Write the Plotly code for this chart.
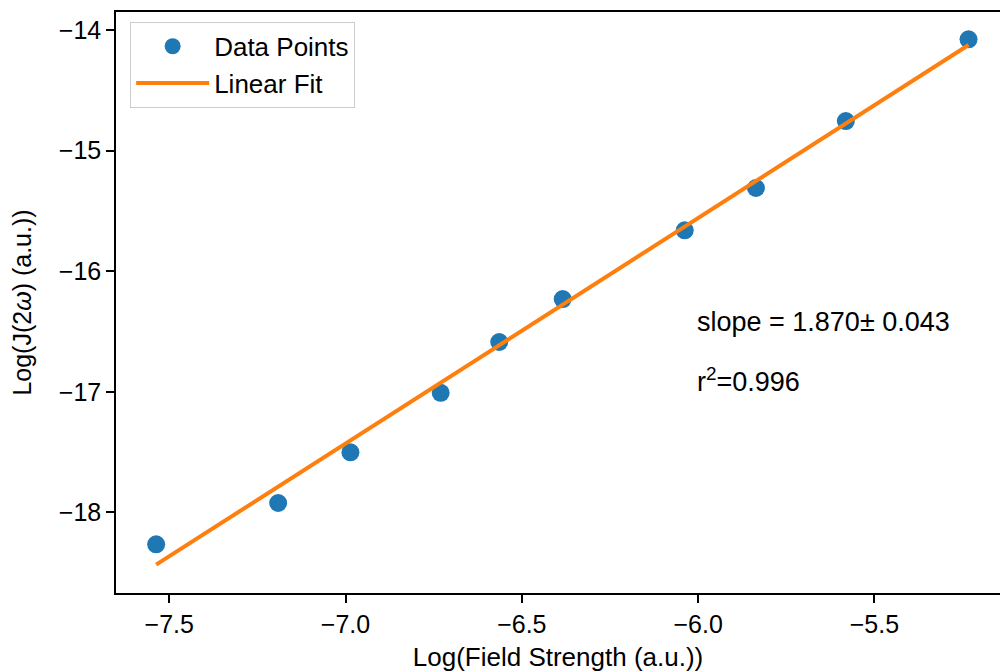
import plotly.graph_objects as go

# Data
field_log = [-7.537, -7.191, -6.986, -6.730, -6.564, -6.384, -6.038, -5.836, -5.581, -5.233]
current_log = [-18.265, -17.922, -17.502, -17.008, -16.587, -16.231, -15.661, -15.310, -14.755, -14.077]

fit_slope = 1.870
fit_intercept = -4.339

annotation_texts = ["slope = 1.870± 0.043", "r<sup>2</sup>=0.996"]
annotation_x = [-6.0, -6.0]
annotation_y = [-16.5, -17.0]

x_ticks = [-7.5, -7.0, -6.5, -6.0, -5.5]
y_ticks = [-18, -17, -16, -15, -14]

fit_x = [min(field_log), max(field_log)]
fit_y = [fit_slope * v + fit_intercept for v in fit_x]

FONT = "Liberation Sans, Arial, sans-serif"

fig = go.Figure()
fig.add_trace(go.Scatter(
    x=field_log, y=current_log, mode="markers", name="Data Points",
    marker=dict(color="#1f77b4", size=18, line=dict(width=0)),
))
fig.add_trace(go.Scatter(
    x=fit_x, y=fit_y, mode="lines", name="Linear Fit",
    line=dict(color="#ff7f0e", width=4),
))

for t, ax, ay in zip(annotation_texts, annotation_x, annotation_y):
    fig.add_annotation(
        x=ax, y=ay, text=t, showarrow=False, xanchor="left", yanchor="bottom",
        xshift=-3, yshift=-7, font=dict(family=FONT, size=27, color="black"),
    )

fig.update_layout(
    width=1000, height=672,
    margin=dict(l=116, r=0, t=12, b=79),
    paper_bgcolor="white", plot_bgcolor="white",
    font=dict(family=FONT, size=25, color="black"),
    showlegend=True,
    legend=dict(
        x=0.016, y=0.983, xanchor="left", yanchor="top",
        bordercolor="#cccccc", borderwidth=1, bgcolor="white",
        font=dict(family=FONT, size=26, color="black"),
        itemwidth=73, tracegroupgap=0,
    ),
    xaxis=dict(
        range=[-7.6509, -5.1438], automargin=False,
        tickvals=x_ticks, ticktext=["−7.5", "−7.0", "−6.5", "−6.0", "−5.5"],
        showgrid=False, zeroline=False,
        showline=True, linecolor="black", linewidth=1.5, mirror=True,
        ticks="outside", ticklen=8, tickwidth=1.5, tickcolor="black",
        tickfont=dict(size=25),
        title=dict(text="Log(Field Strength (a.u.))", font=dict(size=26), standoff=13),
    ),
    yaxis=dict(
        range=[-18.6683, -13.8507], automargin=False,
        tickvals=y_ticks, ticktext=["−18", "−17", "−16", "−15", "−14"],
        showgrid=False, zeroline=False,
        showline=True, linecolor="black", linewidth=1.5, mirror=False,
        ticks="outside", ticklen=8, tickwidth=1.5, tickcolor="black",
        tickfont=dict(size=25),
        title=dict(text="Log(J(2<i>ω</i>) (a.u.))", font=dict(size=25), standoff=20),
    ),
)

fig.write_html(
    "out.html",
    config={"displayModeBar": False},
    post_script="document.body.style.margin='0';document.body.style.overflow='hidden';",
)
